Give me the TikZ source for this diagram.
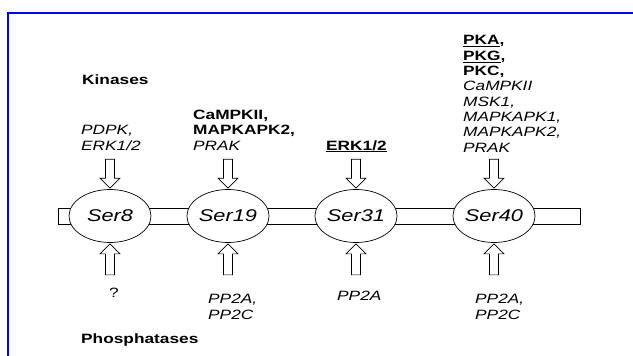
\documentclass[tikz,border=0pt]{standalone}
\usepackage{fontspec}
\setmainfont{Liberation Sans}[FakeStretch=1.28]
\usetikzlibrary{shapes.geometric}
\tikzset{
  frame/.style={draw=blue, line width=2pt},
  lab/.style={anchor=base west, inner sep=0pt, font=\fontsize{13.5}{15.5}\selectfont},
  labi/.style={lab, font=\fontsize{13.5}{15.5}\selectfont\itshape},
  labb/.style={lab, font=\fontsize{13.5}{15.5}\selectfont\bfseries},
  serel/.style={ellipse, draw, line width=0.7pt, fill=white, minimum width=82pt, minimum height=53pt, inner sep=0pt, font=\fontsize{17}{17}\selectfont\itshape},
  barbox/.style={draw, line width=0.7pt, minimum width=522pt, minimum height=16pt, inner sep=0pt},
  blk/.style={draw, line width=0.7pt, fill=white},
  downarr/.pic={\draw[blk] (-4.5,0) -- (-4.5,19) -- (-10,19) -- (0,29) -- (10,19) -- (4.5,19) -- (4.5,0) -- cycle;},
  uparr/.pic={\draw[blk] (0,0) -- (10,10) -- (4.5,10) -- (4.5,31) -- (-4.5,31) -- (-4.5,10) -- (-10,10) -- cycle;}
}
\begin{document}
\begin{tikzpicture}[x=1pt,y=-1pt]
\useasboundingbox (0,0) rectangle (633,356);
\fill[white] (0,0) rectangle (633,356);
\draw[frame] (8,357) -- (8,13) -- (634,13);

% headings
\node[labb] (kin) at (82,84) {Kinases};
\node[labb] (pho) at (81,343) {Phosphatases};

% protein bar and sites
\node[barbox] (bar) at (319,216) {};
\node[serel] (s8)  at (110,216) {Ser8};
\node[serel] (s19) at (228,216) {Ser19};
\node[serel] (s31) at (356,216) {Ser31};
\node[serel] (s40) at (494,216) {Ser40};

% kinase labels
\node[labi] (k1a) at (81,134) {PDPK,};
\node[labi] (k1b) at (81,150) {ERK1/2};

\node[labb] (k2a) at (193,119) {CaMPKII,};
\node[labb] (k2b) at (193,134.5) {MAPKAPK2,};
\node[labi] (k2c) at (193,150) {PRAK};

\node[labb] (k3a) at (326,150) {\underline{ERK1/2}};

\node[labb] (k4a) at (463,45) {\underline{PKA},};
\node[labb] (k4b) at (463,60.3) {\underline{PKG},};
\node[labb] (k4c) at (463,75.6) {PKC,};
\node[labi] (k4d) at (463,90.9) {CaMPKII};
\node[labi] (k4e) at (463,106.2) {MSK1,};
\node[labi] (k4f) at (463,121.5) {MAPKAPK1,};
\node[labi] (k4g) at (463,136.8) {MAPKAPK2,};
\node[labi] (k4h) at (463,152.1) {PRAK};

% phosphatase labels
\node[lab]  (p1a) at (109,297) {?};
\node[labi] (p2a) at (208,303) {PP2A,};
\node[labi] (p2b) at (208,319) {PP2C};
\node[labi] (p3a) at (337,300) {PP2A};
\node[labi] (p4a) at (475,303) {PP2A,};
\node[labi] (p4b) at (475,319) {PP2C};

% kinase arrows (down)
\path (s8.north)  ++(0,-30) pic {downarr};
\path (s19.north) ++(0,-30) pic {downarr};
\path (s31.north) ++(0,-30) pic {downarr};
\path (s40.north) ++(0,-30) pic {downarr};

% phosphatase arrows (up)
\path (s8.south)  ++(0,1) pic {uparr};
\path (s19.south) ++(0,1) pic {uparr};
\path (s31.south) ++(0,1) pic {uparr};
\path (s40.south) ++(0,1) pic {uparr};
\end{tikzpicture}
\end{document}
